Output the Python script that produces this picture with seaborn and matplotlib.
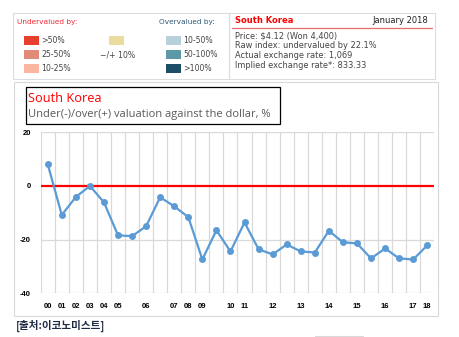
import matplotlib
matplotlib.use("Agg")
import matplotlib.pyplot as plt
import seaborn as sns
import pandas as pd
import numpy as np
from matplotlib.patches import Rectangle
from matplotlib.lines import Line2D

sns.set_theme(style="white")
plt.rcParams['font.family'] = ['Liberation Sans', 'DejaVu Sans']

# ---- data ----
tick_labels = ["00", "01", "02", "03", "04", "05", "", "06", "", "07", "08", "09", "",
               "10", "11", "", "12", "", "13", "", "14", "", "15", "", "16", "", "17", "18"]
values = [8.1, -10.8, -4.1, 0.0, -6.1, -18.4, -18.7, -15.0, -4.2, -7.6, -11.6, -27.4, -16.5,
          -24.4, -13.6, -23.6, -25.5, -21.8, -24.4, -24.8, -16.7, -21.0, -21.4, -27.0, -23.3,
          -27.0, -27.4, -22.1]
y_ticks = [20, 0, -20, -40]

legend_under = [">50%", "25-50%", "10-25%"]
legend_under_colors = ["#e8402e", "#e08a78", "#fbb6a0"]
legend_mid = "\u2212/+ 10%"
legend_mid_color = "#e9dc9c"
legend_over = ["10-50%", "50-100%", ">100%"]
legend_over_colors = ["#b9cfd9", "#5e98a6", "#1c4d69"]

info_title = "South Korea"
info_date = "January 2018"
info_lines = ["Price: $4.12 (Won 4,400)", "Raw index: undervalued by 22.1%",
              "Actual exchange rate: 1,069", "Implied exchange rate*: 833.33"]

W, H = 460, 337
fig = plt.figure(figsize=(W / 100, H / 100), dpi=100)
fig.patch.set_facecolor("white")

def fx(x):
    return x / W

def fy(y):
    return 1 - y / H

def rect(x0, y0, x1, y1, **kw):
    fig.patches.append(Rectangle((fx(x0), fy(y1)), fx(x1) - fx(x0), fy(y0) - fy(y1),
                                 transform=fig.transFigure, **kw))

def hline(x0, x1, y, **kw):
    fig.lines.append(Line2D([fx(x0), fx(x1)], [fy(y), fy(y)], transform=fig.transFigure, **kw))

# ---- top legend box ----
rect(13, 13, 229, 79, facecolor="none", edgecolor="#dcdcdc", lw=0.8)
rect(229, 13, 435, 79, facecolor="none", edgecolor="#dcdcdc", lw=0.8)
vfont = ['DejaVu Sans']
fig.text(fx(17), fy(22.3), "Undervalued by:", color="#ee2a35", fontsize=5.3, family=vfont, va="center")
fig.text(fx(159), fy(22.3), "Overvalued by:", color="#2e5a74", fontsize=5.3, family=vfont, va="center")
for i, (lab, c) in enumerate(zip(legend_under, legend_under_colors)):
    yc = 40.5 + 14 * i
    rect(24.3, yc - 4.5, 39, yc + 4.5, facecolor=c, edgecolor="none")
    fig.text(fx(41), fy(yc), lab, color="#444444", fontsize=5.6, family=vfont, va="center")
rect(109, 36, 124, 45, facecolor=legend_mid_color, edgecolor="none")
fig.text(fx(100), fy(54.5), legend_mid, color="#444444", fontsize=5.6, family=vfont, va="center")
for i, (lab, c) in enumerate(zip(legend_over, legend_over_colors)):
    yc = 40.5 + 14 * i
    rect(166, yc - 4.5, 181, yc + 4.5, facecolor=c, edgecolor="none")
    fig.text(fx(183), fy(yc), lab, color="#444444", fontsize=5.6, family=vfont, va="center")

fig.text(fx(235), fy(20.7), info_title, color="#ff0000", fontsize=6.0, family=vfont,
         fontweight="bold", va="center")
fig.text(fx(428), fy(20.7), info_date, color="#222222", fontsize=6.0, family=vfont,
         va="center", ha="right")
hline(232, 432, 28.3, color="#e86b6b", lw=0.9)
for i, t in enumerate(info_lines):
    fig.text(fx(235.5), fy(35.7 + 10 * i), t, color="#444444", fontsize=5.95, family=vfont, va="center")

# ---- chart outer box ----
rect(14, 82, 438, 316, facecolor="none", edgecolor="#d9d9d9", lw=0.8)

# ---- title box ----
rect(25.7, 87.3, 280, 124, facecolor="white", edgecolor="black", lw=0.9)
fig.text(fx(28), fy(98.3), "South Korea", color="#ff0000", fontsize=9.2, va="center",
         family=['Open Sans', 'DejaVu Sans'])
fig.text(fx(28), fy(115), "Under(-)/over(+) valuation against the dollar, %", color="#595959",
         fontsize=8.0, va="center", family=['Open Sans', 'DejaVu Sans'])

# ---- main axes ----
left, right, top, bottom = 40.7, 434.3, 132.3, 293.3
ax = fig.add_axes([fx(left), fy(bottom), fx(right) - fx(left), (bottom - top) / H])
df = pd.DataFrame({"x": np.arange(len(values)), "v": values})
ax.set_xlim(-0.5, len(values) - 0.5)
ax.set_ylim(-40, 20)
for k in range(len(values) + 1):
    ax.axvline(k - 0.5, color="#d9d9d9", lw=0.9, zorder=0)
for yv in [20, -20, -40]:
    ax.axhline(yv, color="#d9d9d9", lw=0.9, zorder=0)
ax.axhline(0, color="#ff0000", lw=1.6, zorder=1)
sns.lineplot(data=df, x="x", y="v", ax=ax, color="#5b9bd5", lw=1.6, marker="o",
             markersize=5, markeredgewidth=0, zorder=3)
for s in ax.spines.values():
    s.set_visible(False)
ax.set_xticks(df["x"])
ax.set_xticklabels(tick_labels)
ax.set_yticks(y_ticks)
ax.set_yticklabels([str(v) for v in y_ticks])
ax.tick_params(axis="both", length=0, labelsize=5.5, colors="black")
ax.tick_params(axis="x", pad=7)
ax.tick_params(axis="y", pad=7)
for lab in ax.get_xticklabels() + ax.get_yticklabels():
    lab.set_fontweight("bold")
ax.set_xlabel("")
ax.set_ylabel("")
ax.set_facecolor("none")

# ---- source ----
fig.text(fx(15.5), fy(326), "[출처:이코노미스트]", color="#1f2a44", fontsize=7.6,
         fontweight="bold", va="center", family=['Noto Sans CJK KR', 'DejaVu Sans'])
hline(315, 363, 335.5, color="#d9d9d9", lw=0.8)

fig.savefig("out.png", dpi=100, facecolor="white")
